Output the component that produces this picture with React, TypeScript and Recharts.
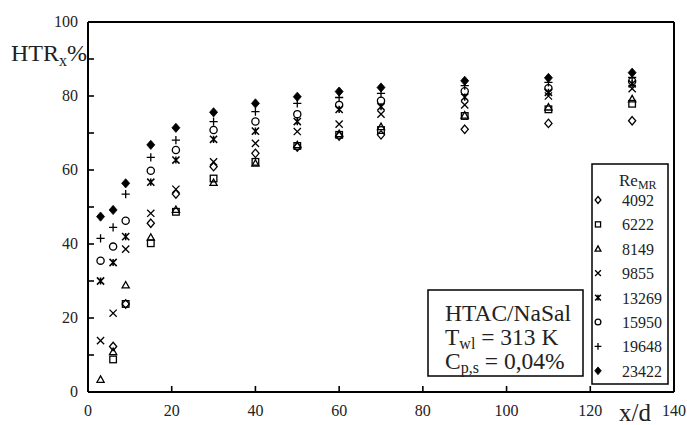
import React from "react";
import { ScatterChart, Scatter, XAxis, YAxis, ReferenceLine } from "recharts";

// x/d positions of the measuring stations
const xd = [3, 6, 9, 15, 21, 30, 40, 50, 60, 70, 90, 110, 130];

// HTR_x (%) per Re_MR, null where no point is drawn
const re4092 = [null, 12.3, 23.8, 45.6, 53.5, 60.9, 64.5, 66.2, 69.2, 69.5, 71.0, 72.6, 73.3];
const re6222 = [null, 8.8, 23.8, 40.2, 48.7, 57.7, 62.2, 66.5, 69.5, 70.8, 74.6, 76.4, 77.9];
const re8149 = [3.4, 10.9, 28.9, 41.8, 49.3, 56.6, 61.8, 66.8, 69.8, 71.7, 74.8, 77.0, 79.2];
const re9855 = [13.9, 21.3, 38.6, 48.3, 54.8, 62.2, 67.2, 70.4, 72.4, 75.1, 77.6, 80.0, 82.0];
const re13269 = [30.0, 35.0, 42.0, 56.7, 62.7, 68.3, 70.5, 73.1, 76.4, 77.1, 79.7, 81.0, 83.3];
const re15950 = [35.5, 39.3, 46.3, 59.8, 65.4, 70.8, 73.1, 75.1, 77.6, 78.7, 81.3, 82.1, 84.0];
const re19648 = [41.5, 44.5, 53.5, 63.4, 68.1, 73.1, 75.8, 78.0, 79.6, 80.7, 82.8, 83.7, 85.0];
const re23422 = [47.4, 49.2, 56.4, 66.8, 71.4, 75.6, 78.0, 79.8, 81.2, 82.3, 84.1, 84.9, 86.3];

const reLabels = ["4092", "6222", "8149", "9855", "13269", "15950", "19648", "23422"];
const markerKinds = ["diamond", "square", "triangle", "cross", "star", "circle", "plus", "filledDiamond"];
const seriesValues = [re4092, re6222, re8149, re9855, re13269, re15950, re19648, re23422];

const xTicks = [0, 20, 40, 60, 80, 100, 120, 140];
const yTicks = [0, 10, 20, 30, 40, 50, 60, 70, 80, 90, 100];

const FONT = "'Liberation Serif', 'Times New Roman', serif";

function Marker({ kind, cx, cy, s = 1 }: { kind: string; cx: number; cy: number; s?: number }) {
  const st = { stroke: "#000", strokeWidth: 1.3, fill: "none" };
  const r = 3.6 * s;
  switch (kind) {
    case "diamond":
      return <path d={`M${cx},${cy - r - 0.6} L${cx + r},${cy} L${cx},${cy + r + 0.6} L${cx - r},${cy} Z`} {...st} />;
    case "square":
      return <rect x={cx - r + 0.3} y={cy - r + 0.3} width={2 * r - 0.6} height={2 * r - 0.6} {...st} />;
    case "triangle":
      return <path d={`M${cx},${cy - r} L${cx + r},${cy + r * 0.8} L${cx - r},${cy + r * 0.8} Z`} {...st} />;
    case "cross":
      return <path d={`M${cx - r},${cy - r} L${cx + r},${cy + r} M${cx + r},${cy - r} L${cx - r},${cy + r}`} {...st} />;
    case "star":
      return (
        <path
          d={`M${cx - r},${cy - r} L${cx + r},${cy + r} M${cx + r},${cy - r} L${cx - r},${cy + r} M${cx},${cy - r} L${cx},${cy + r}`}
          {...st}
          strokeWidth={1.5}
        />
      );
    case "circle":
      return <circle cx={cx} cy={cy} r={r} {...st} />;
    case "plus":
      return <path d={`M${cx - r - 0.5},${cy} L${cx + r + 0.5},${cy} M${cx},${cy - r - 0.5} L${cx},${cy + r + 0.5}`} {...st} />;
    default:
      return (
        <path
          d={`M${cx},${cy - r - 1} L${cx + r + 0.4},${cy} L${cx},${cy + r + 1} L${cx - r - 0.4},${cy} Z`}
          fill="#000"
          stroke="#000"
          strokeWidth={0.8}
        />
      );
  }
}

function YTick(props: any) {
  const { x, y, payload } = props;
  return (
    <g>
      <line x1={x} y1={y} x2={x + 6} y2={y} stroke="#000" strokeWidth={1.6} />
      {payload.value % 20 === 0 && (
        <text x={x - 10} y={y + 5} textAnchor="end" fontFamily={FONT} fontSize={16} fill="#222">
          {payload.value}
        </text>
      )}
    </g>
  );
}

function XTick(props: any) {
  const { x, y, payload } = props;
  return (
    <g>
      <line x1={x} y1={y} x2={x} y2={y - 6} stroke="#000" strokeWidth={1.6} />
      <text x={x} y={y + 24} textAnchor="middle" fontFamily={FONT} fontSize={16} fill="#222">
        {payload.value}
      </text>
    </g>
  );
}

export default function App() {
  const series = reLabels.map((name, i) => ({
    name,
    kind: markerKinds[i],
    data: xd
      .map((x, j) => ({ x, y: seriesValues[i][j] }))
      .filter((p) => p.y !== null),
  }));

  return (
    <div style={{ position: "absolute", left: 0, top: 0, width: 687, height: 425, background: "#fff" }}>
      <ScatterChart width={687} height={425} margin={{ top: 22, right: 13, bottom: 3, left: 48 }}>
        <XAxis
          type="number"
          dataKey="x"
          domain={[0, 140]}
          ticks={xTicks}
          interval={0}
          tickSize={0}
          tickMargin={0}
          height={30}
          axisLine={{ stroke: "#000", strokeWidth: 2 }}
          tick={<XTick />}
        />
        <YAxis
          type="number"
          dataKey="y"
          domain={[0, 100]}
          ticks={yTicks}
          interval={0}
          tickSize={0}
          tickMargin={0}
          width={40}
          axisLine={{ stroke: "#000", strokeWidth: 2 }}
          tick={<YTick />}
        />
        <ReferenceLine y={100} stroke="#000" strokeWidth={2} />
        <ReferenceLine x={140} stroke="#000" strokeWidth={2} />
        {series.map((s) => (
          <Scatter
            key={s.name}
            name={s.name}
            data={s.data}
            isAnimationActive={false}
            shape={(p: any) => <Marker kind={s.kind} cx={p.cx} cy={p.cy} />}
          />
        ))}
      </ScatterChart>

      <svg width={687} height={425} style={{ position: "absolute", left: 0, top: 0, pointerEvents: "none" }}>
        <text x={11} y={61} fontFamily={FONT} fontSize={24} fill="#222">
          HTR
          <tspan fontSize={16} dy={5}>x</tspan>
          <tspan dy={-5}>%</tspan>
        </text>
        <text x={635} y={421} textAnchor="middle" fontFamily={FONT} fontSize={25} fill="#222">
          x/d
        </text>

        {/* annotation box */}
        <rect x={428} y={290} width={155} height={86} fill="#fff" stroke="#000" strokeWidth={1.5} />
        <text x={445} y={321} fontFamily={FONT} fontSize={23.5} fill="#222">HTAC/NaSal</text>
        <text x={445} y={345} fontFamily={FONT} fontSize={23.5} fill="#222">
          T<tspan fontSize={16} dy={4}>wl</tspan>
          <tspan dy={-4}> = 313 K</tspan>
        </text>
        <text x={445} y={369} fontFamily={FONT} fontSize={23.5} fill="#222">
          C<tspan fontSize={16} dy={4}>p,s</tspan>
          <tspan dy={-4}> = 0,04%</tspan>
        </text>

        {/* legend */}
        <rect x={592} y={164} width={76} height={220} fill="#fff" stroke="#000" strokeWidth={1.5} />
        <text x={619} y={186} fontFamily={FONT} fontSize={17} fill="#222">
          Re<tspan fontSize={12} dy={3}>MR</tspan>
        </text>
        {series.map((s, i) => {
          const cy = 200 + i * 24.4;
          return (
            <g key={s.name}>
              <Marker kind={s.kind} cx={598} cy={cy} s={0.8} />
              <text x={622} y={cy + 6} fontFamily={FONT} fontSize={16} fill="#222">
                {s.name}
              </text>
            </g>
          );
        })}
      </svg>
    </div>
  );
}
